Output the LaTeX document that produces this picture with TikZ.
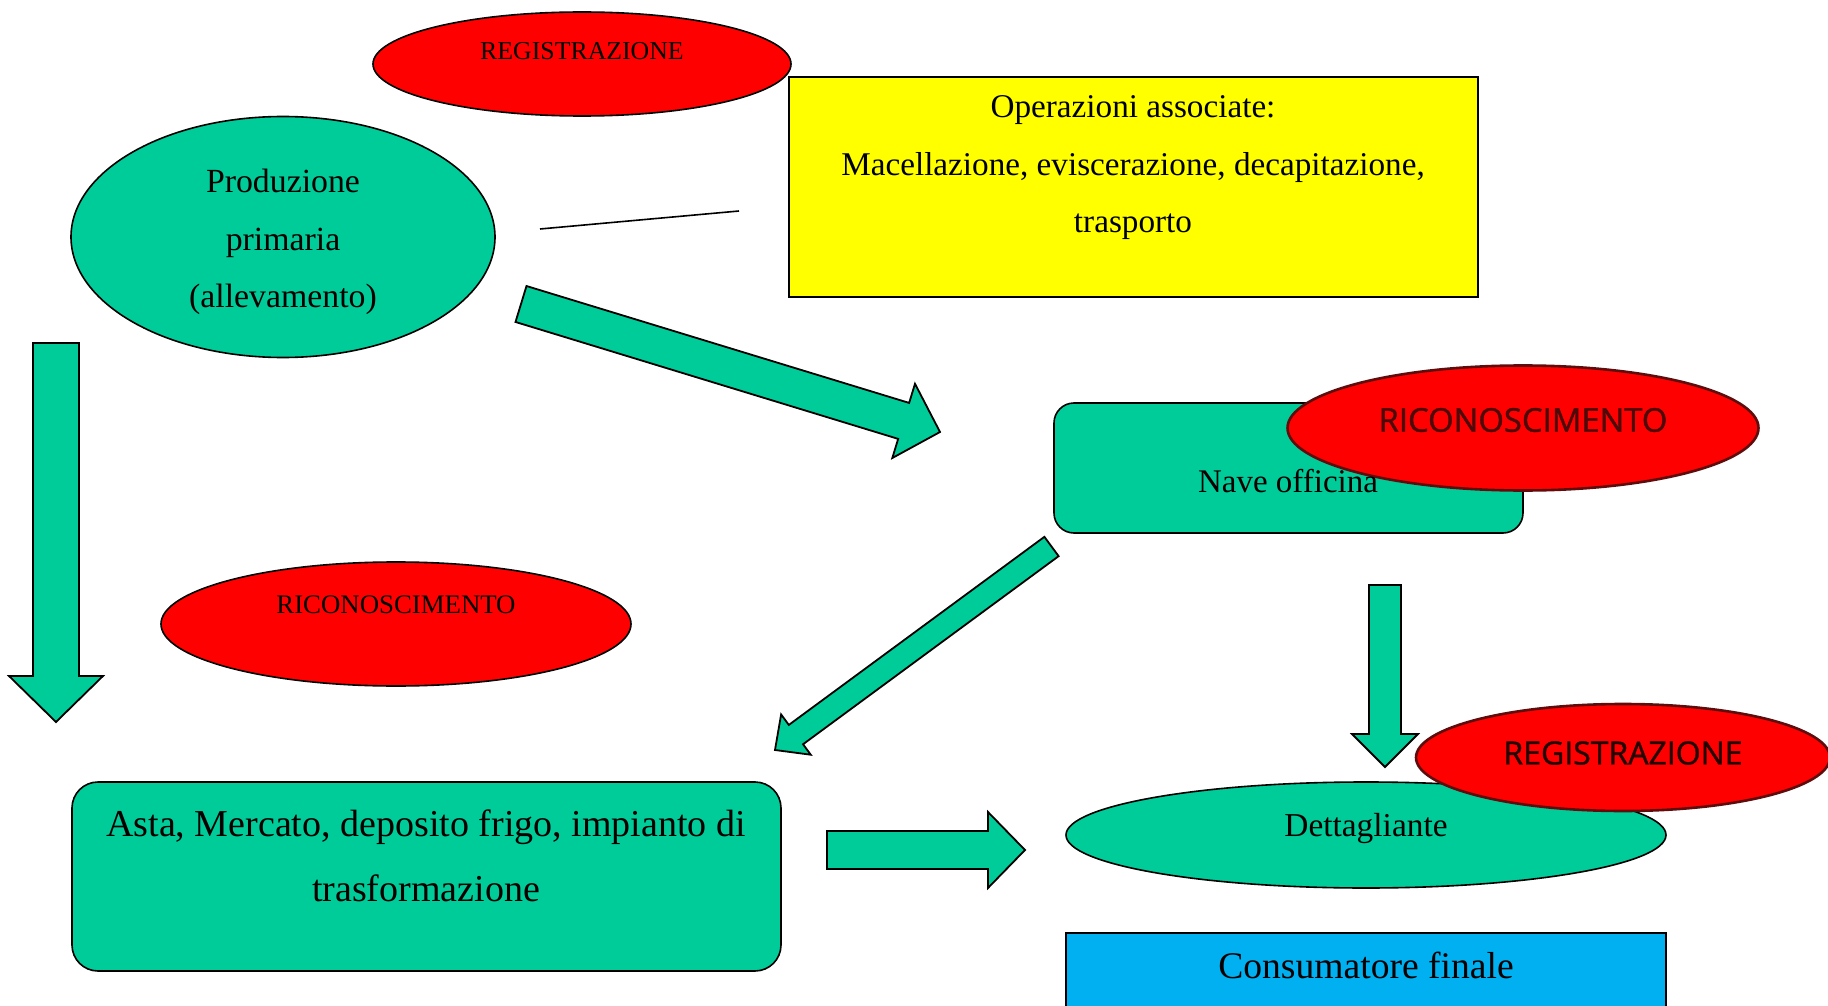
\documentclass[tikz,border=0pt]{standalone}
\usepackage{fontspec}
\setmainfont{Liberation Serif}
\newfontfamily\ovalsans[FakeBold=1.2]{Open Sans}
\usetikzlibrary{shapes,calc}
\definecolor{verde}{RGB}{0,204,153}
\definecolor{rosso}{RGB}{255,0,0}
\definecolor{giallo}{RGB}{255,255,0}
\definecolor{celeste}{RGB}{0,176,240}
\definecolor{bordeaux}{RGB}{95,12,12}
\tikzstyle{box}=[
	rectangle,
	draw=black,
	line width=0.8pt,
	inner sep=0pt
]
\tikzstyle{oval}=[
	ellipse,
	draw=black,
	line width=0.8pt,
	inner sep=0pt
]
\tikzstyle{barrow}=[
	draw=black,
	line width=0.9pt,
	fill=verde,
	line join=miter
]
\tikzstyle{txt}=[
	align=center,
	inner sep=0pt
]

\begin{document}
\begin{tikzpicture}[x=0.5pt, y=-0.5pt, shade/.style={oval, draw=bordeaux, line width=1.3pt, fill=rosso}]
\useasboundingbox (0,0) rectangle (1828,1006);

% forme
\node[oval, fill=rosso, minimum width=209pt, minimum height=52pt] at (582,64) (reg1) {};
\node[box, fill=giallo, minimum width=344.5pt, minimum height=110pt] at (1133.5,187) (oper) {};
\node[oval, fill=verde, minimum width=212pt, minimum height=120.5pt] at (283,237) (prod) {};
\node[oval, fill=rosso, minimum width=235pt, minimum height=62pt] at (396,624) (ric1) {};
\node[box, fill=verde, rounded corners=10pt, minimum width=234.5pt, minimum height=65pt] at (1288.5,468) (nave) {};
\node[shade, minimum width=235.5pt, minimum height=62.5pt] at (1523,428) (ric2) {};
\node[box, fill=verde, rounded corners=13pt, minimum width=354.5pt, minimum height=94.5pt] at (426.5,876.5) (asta) {};
\node[oval, fill=verde, minimum width=300pt, minimum height=53pt] at (1366,835) (dett) {};
\node[shade, minimum width=207pt, minimum height=53.5pt] at (1623,757.5) (reg2) {};
\node[box, fill=celeste, minimum width=300pt, minimum height=44pt] at (1366,977) (cons) {};

% linea
\coordinate (l1) at (540,229);
\coordinate (l2) at (739,211);
\draw[line width=0.8pt] (l1) -- (l2);

% frecce
\coordinate (a1s) at (56,343);
\coordinate (a1e) at (56,722);
\coordinate (a2s) at (521,304);
\coordinate (a2e) at (940,432);
\coordinate (a3s) at (1051.5,546.5);
\coordinate (a3e) at (775,750);
\coordinate (a4s) at (827,850);
\coordinate (a4e) at (1025,850);
\coordinate (a5s) at (1385,585);
\coordinate (a5e) at (1385,767);

\foreach \s/\e/\w/\hw/\hl in {a1s/a1e/11.5pt/23.5pt/23pt, a2s/a2e/9.4pt/19.4pt/19pt,
    a3s/a3e/6pt/12.5pt/13pt, a4s/a4e/9.5pt/19pt/18.5pt, a5s/a5e/8pt/16.5pt/16.5pt}{
    \coordinate (hb) at ($(\e)!\hl!(\s)$);
    \draw[barrow] ($(\s)!\w!90:(\e)$) -- ($(hb)!\w!90:(\e)$) -- ($(hb)!\hw!90:(\e)$) -- (\e)
        -- ($(hb)!\hw!-90:(\e)$) -- ($(hb)!\w!-90:(\e)$) -- ($(\s)!\w!-90:(\e)$) -- cycle;
}

% testi
\node[txt, font=\fontsize{12.9}{15}\selectfont] at (582,51) (reg1t) {REGISTRAZIONE};
\node[txt, font=\fontsize{16.6}{28.75}\selectfont] at (1133,168) (opert) {Operazioni associate:\\Macellazione, eviscerazione, decapitazione,\\trasporto};
\node[txt, font=\fontsize{16.9}{28.75}\selectfont] at (283,242) (prodt) {Produzione\\primaria\\(allevamento)};
\node[txt, font=\fontsize{13.4}{15}\selectfont] at (396,605) (ric1t) {RICONOSCIMENTO};
\node[txt, font=\fontsize{16.5}{20}\selectfont] at (1288,481) (navet) {Nave officina};
\node[txt, font=\ovalsans\fontsize{16.4}{20}\selectfont, text=bordeaux!80!black] at (1523,420) (ric2t) {RICONOSCIMENTO};
\node[txt, font=\fontsize{19}{32.5}\selectfont] at (426,856) (astat) {Asta, Mercato, deposito frigo, impianto di\\trasformazione};
\node[txt, font=\fontsize{16.7}{20}\selectfont] at (1366,829) (dettt) {Dettagliante};
\node[txt, font=\ovalsans\fontsize{16}{20}\selectfont, text=black!85!red] at (1623,753) (reg2t) {REGISTRAZIONE};
\node[txt, font=\fontsize{18.8}{22}\selectfont] at (1366,965) (const) {Consumatore finale};

\end{tikzpicture}
\end{document}
